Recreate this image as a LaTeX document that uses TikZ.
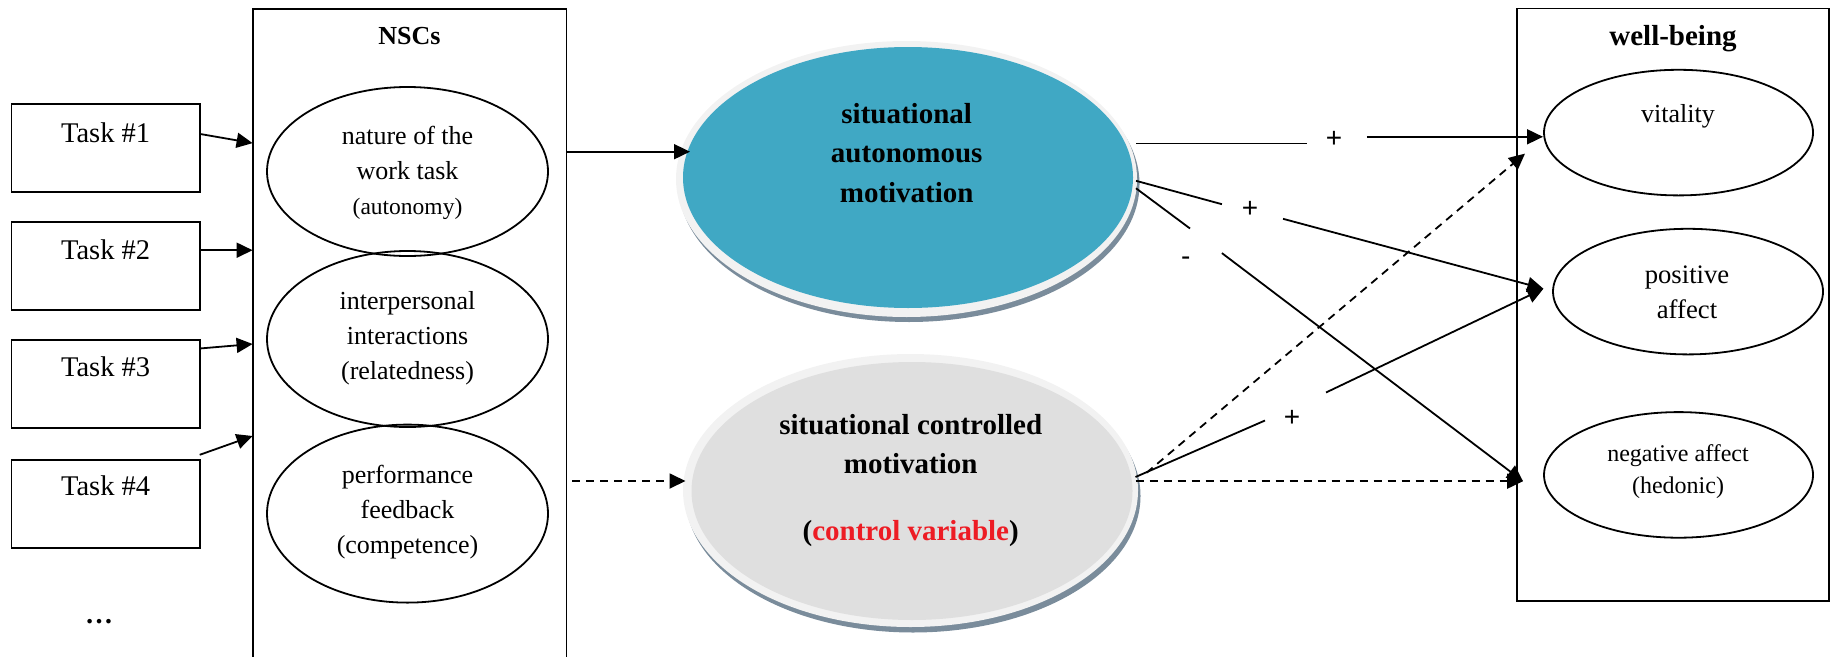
\documentclass[tikz,border=0pt]{standalone}
\usepackage{fontspec}
\setmainfont{Liberation Serif}
\newfontfamily\signfont{Liberation Sans}
\usetikzlibrary{shapes.geometric,arrows.meta,calc}
\definecolor{autofill}{RGB}{64,168,196}
\definecolor{ctrlfill}{RGB}{223,223,223}
\definecolor{ringcol}{RGB}{242,242,242}
\definecolor{shadowcol}{RGB}{122,140,155}
\definecolor{ctrlred}{RGB}{237,28,36}

\begin{document}
\begin{tikzpicture}[x=1pt,y=-1pt,line width=1.8pt,
  every node/.style={inner sep=0pt,outer sep=0pt},
  taskbox/.style={draw,rectangle,minimum width=188.3pt,minimum height=88pt},
  tasktext/.style={font=\fontsize{28.5}{34}\selectfont},
  frame/.style={draw,rectangle},
  framelabel/.style={font=\bfseries\fontsize{#1}{34}\selectfont},
  oval/.style={draw,ellipse},
  txt/.style={align=center,font=\fontsize{26}{35}\selectfont},
  bigtxt/.style={align=center,font=\bfseries\fontsize{29}{39.5}\selectfont},
  sign/.style={font=\signfont\fontsize{28}{30}\selectfont},
  arr/.style={-{Triangle[length=16pt,width=15pt]}},
  dasharr/.style={arr,dash pattern=on 8pt off 6pt}
]
\useasboundingbox (0,0) rectangle (1830,656);

% ---- task boxes ----
\node[taskbox] (task1) at (105.6,147.7) {};
\node[taskbox] (task2) at (105.6,265.7) {};
\node[taskbox] (task3) at (105.6,383.6) {};
\node[taskbox] (task4) at (105.6,503.8) {};
\node[tasktext] (task1t) at (105.6,133) {Task \#1};
\node[tasktext] (task2t) at (105.6,250) {Task \#2};
\node[tasktext] (task3t) at (105.6,367) {Task \#3};
\node[tasktext] (task4t) at (105.6,486) {Task \#4};
\node[font=\bfseries\fontsize{28}{34}\selectfont] (more) at (99,622) {…};

% ---- NSCs frame ----
\node[frame,minimum width=313.8pt,minimum height=662pt] (nsc) at (409.5,340) {};
\node[framelabel=26] (nsclab) at (409.5,35.6) {NSCs};
\node[oval,minimum width=281pt,minimum height=169pt] (n1) at (407.5,171.5) {};
\node[oval,minimum width=281pt,minimum height=176pt] (n2) at (407.5,339) {};
\node[oval,minimum width=281pt,minimum height=178pt] (n3) at (407.5,513.6) {};
\node[txt] (n1t) at (407.5,173) {nature of the\\work task\\{\fontsize{23.5}{35}\selectfont (autonomy)}};
\node[txt] (n2t) at (407.5,338) {interpersonal\\interactions\\(relatedness)};
\node[txt] (n3t) at (407.5,512.6) {performance\\feedback\\(competence)};

% ---- motivation ellipses (shadow, rim, fill) ----
\fill[shadowcol] (909,184) ellipse [x radius=230.5pt,y radius=138pt];
\fill[ringcol] (906.5,179) ellipse [x radius=230.5pt,y radius=138pt];
\node[ellipse,fill=autofill,minimum width=450pt,minimum height=261pt] (auto) at (908,177.5) {};
\node[bigtxt] (autot) at (906.7,153) {situational\\autonomous\\motivation};

\fill[shadowcol] (913,496) ellipse [x radius=227.5pt,y radius=136.5pt];
\fill[ringcol] (910.5,490.5) ellipse [x radius=227.5pt,y radius=136.5pt];
\node[ellipse,fill=ctrlfill,minimum width=441pt,minimum height=258pt] (ctrl) at (912,491) {};
\node[bigtxt] (ctrlt) at (910.7,480.5) {situational controlled\\motivation\\[27pt](\textcolor{ctrlred}{control variable})};

% ---- well-being frame ----
\node[frame,minimum width=312pt,minimum height=592.6pt] (wb) at (1673,304.7) {};
\node[framelabel=29] (wblab) at (1673,38.5) {well-being};
\node[oval,minimum width=269pt,minimum height=125.6pt] (vit) at (1678.5,132.6) {};
\node[oval,minimum width=270pt,minimum height=125.6pt] (pos) at (1688,291.6) {};
\node[oval,minimum width=269pt,minimum height=125.6pt] (neg) at (1678.5,474.9) {};
\node[txt] (vitt) at (1678,116.3) {vitality};
\node[align=center,font=\fontsize{26.7}{34.7}\selectfont] (post) at (1687,292.2) {positive\\affect};
\node[align=center,font=\fontsize{24}{31.4}\selectfont] (negt) at (1678,471.7) {negative affect\\(hedonic)};

% ---- tasks into NSCs ----
\draw[arr] ($(task1.east)+(0,-13.8)$) -- (nsc.west |- 0,143.1);
\draw[arr] ($(task2.east)+(0,-15.5)$) -- (nsc.west |- 0,250.2);
\draw[arr] ($(task3.east)+(0,-35.1)$) -- (nsc.west |- 0,344);
\draw[arr] ($(task4.north east)+(0,-5)$) -- (nsc.west |- 0,436);

% ---- NSCs into motivation ----
\draw[arr] (nsc.east |- 0,151.7) -- ($(auto.west |- 0,151.7)+(7,0)$);
\draw[dasharr] ($(nsc.east |- 0,481)+(6,0)$) -- ($(ctrl.west |- 0,481)+(-6,0)$);

% ---- signs on the paths ----
\node[sign] (p1) at (1334,139) {+};
\node[sign] (p2) at (1250,209.2) {+};
\node[sign] (m1) at (1185.7,261) {-};
\node[sign] (p3) at (1292,418.4) {+};

% ---- motivation into well-being ----
\draw ($(auto.east |- 0,143.5)+(3,0)$) -- ($(p1)+(-27.5,4.5)$);
\draw[arr] ($(p1)+(32.8,-2.2)$) -- ($(vit.west |- 0,136.8)+(-1,0)$);

\draw ($(auto.east |- 0,180.8)+(3,0)$) -- ($(p2)+(-28.1,-5)$);
\draw[arr] ($(p2)+(33,9.6)$) -- ($(pos.west)+(-9.6,-2.9)$);

\draw ($(auto.east |- 0,188.3)+(3,0)$) -- ($(m1)+(4.3,-32.5)$);
\draw[arr] ($(m1)+(36.2,-7.9)$) -- ($(neg.west)+(-21,6.3)$);

\draw[dasharr] ($(ctrl.east |- 0,472.8)+(14,0)$) -- ($(vit.west)+(-19,21)$);
\draw ($(ctrl.east |- 0,477)+(3,0)$) -- ($(p3)+(-27,2.1)$);
\draw[arr] ($(p3)+(34,-25.9)$) -- ($(pos.west)+(-9.6,-2.9)$);
\draw[dasharr] ($(ctrl.east |- 0,481.2)+(3,0)$) -- ($(neg.west)+(-21,6.3)$);
\end{tikzpicture}
\end{document}
